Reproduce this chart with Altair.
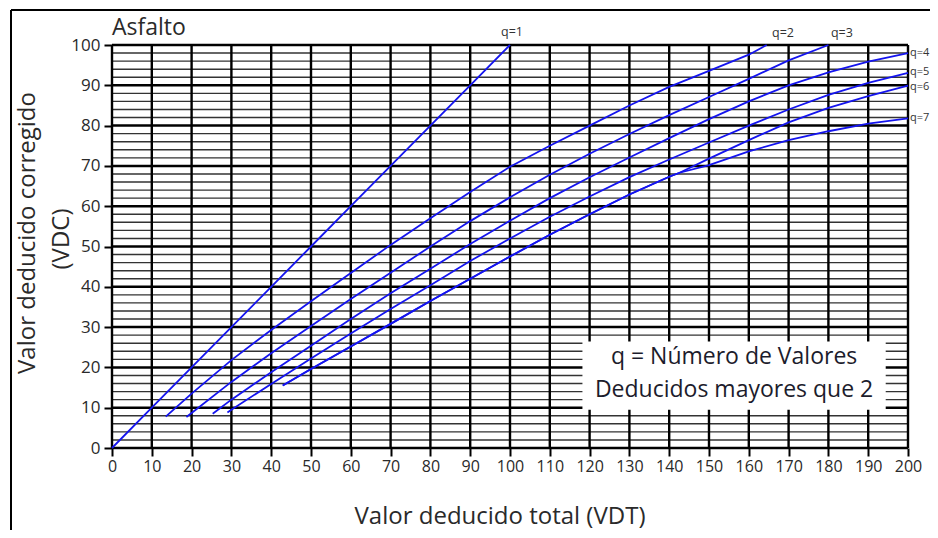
import altair as alt
import pandas as pd

# ---------------- data ----------------
q1_x = [0, 10, 20, 30, 40, 50, 60, 70, 80, 90, 100]
q1_y = [0, 10, 20, 30, 40, 50, 60, 70, 80, 90, 100]

q2_x = [13.5, 20, 30, 40, 50, 60, 70, 80, 90, 100, 110, 120, 130, 140, 150, 160, 164.5]
q2_y = [7.8, 13.5, 21.8, 29.3, 36.4, 43.4, 50.4, 57, 63.5, 69.8, 75, 80, 85, 89.6, 93.6, 97.6, 100]

q3_x = [18.7, 20, 30, 40, 50, 60, 70, 80, 90, 100, 110, 120, 130, 140, 150, 160, 170, 180]
q3_y = [7.7, 8.7, 16.4, 23.5, 30.3, 37, 43.5, 50, 56.3, 62.2, 67.8, 73, 77.9, 82.6, 87.1, 91.6, 96.2, 100]

q4_x = [25.3, 30, 40, 50, 60, 70, 80, 90, 100, 110, 120, 130, 140, 150, 160, 170, 180, 190, 200]
q4_y = [8.5, 12, 18.8, 25.4, 32, 38.4, 44.5, 50.6, 56.4, 62, 67.2, 72.1, 76.9, 81.6, 86, 90, 93.2, 95.9, 98]

q5_x = [29, 30, 40, 50, 60, 70, 80, 90, 100, 110, 120, 130, 140, 150, 160, 170, 180, 190, 200]
q5_y = [8.8, 9.5, 15.9, 22.2, 28.4, 34.5, 40.4, 46.4, 52, 57.4, 62.4, 67.2, 71.6, 75.8, 80, 84, 87.6, 90.6, 93.1]

q6_x = [42.9, 50, 60, 70, 80, 90, 100, 110, 120, 130, 140, 142.6, 150, 160, 170, 180, 190, 200]
q6_y = [15.5, 19.6, 25.2, 30.8, 36.5, 42, 47.5, 52.9, 58, 62.9, 67.3, 68.3, 71.8, 76.4, 80.8, 84.4, 87.3, 89.9]

q7_x = [42.9, 50, 60, 70, 80, 90, 100, 110, 120, 130, 140, 142.6, 150, 160, 170, 180, 190, 200]
q7_y = [15.5, 19.6, 25.2, 30.8, 36.5, 42, 47.5, 52.9, 58, 62.9, 67.3, 68.3, 70.2, 73.6, 76.4, 78.6, 80.5, 81.8]

curve_names = ["q=1", "q=2", "q=3", "q=4", "q=5", "q=6", "q=7"]
curve_xs = [q1_x, q2_x, q3_x, q4_x, q5_x, q6_x, q7_x]
curve_ys = [q1_y, q2_y, q3_y, q4_y, q5_y, q6_y, q7_y]

# curve end labels (data units)
top_text = ["q=1", "q=2", "q=3"]
top_x = [100.5, 168.6, 183.4]
top_y = [103.2, 103.0, 103.0]
side_text = ["q=4", "q=5", "q=6", "q=7"]
side_x = [200.5, 200.5, 200.5, 200.5]
side_y = [98.0, 93.2, 89.6, 81.9]

x_ticks = list(range(0, 201, 10))
y_ticks = list(range(0, 101, 10))
y_minor = list(range(0, 101, 2))

note_lines = ["q = Número de Valores", "Deducidos mayores que 2"]
note_box = [118.2, 194.4, 9.5, 26.4]  # x1, x2, y1, y2 in data units

# ---------------- build ----------------
rows = []
for name, xs_, ys_ in zip(curve_names, curve_xs, curve_ys):
    for i, (a, b) in enumerate(zip(xs_, ys_)):
        rows.append({"q": name, "vdt": a, "vdc": b, "i": i})
curves = pd.DataFrame(rows)

W, H = 796, 403
FONT = "Open Sans"
TXT = "#2a2a2a"
BLUE = "#1414ee"

xs = alt.Scale(domain=[0, 200], nice=False, zero=False)
ys = alt.Scale(domain=[0, 100], nice=False, zero=False)

AX = alt.Axis(values=x_ticks, title=None, grid=False, domain=False,
              tickSize=8, tickWidth=2, tickColor="#000",
              labelFont=FONT, labelFontSize=16, labelColor=TXT,
              labelPadding=2, labelFlush=False, labelOverlap=False)
AY = alt.Axis(values=y_ticks, title=None, grid=False, domain=False,
              tickSize=8, tickWidth=2, tickColor="#000",
              labelFont=FONT, labelFontSize=17, labelColor=TXT,
              labelPadding=4, labelFlush=False, labelOverlap=False)

vgrid = pd.DataFrame({"v": x_ticks, "a": 0, "b": 100})
hmin = pd.DataFrame({"v": [v for v in y_minor if v % 10], "a": 0, "b": 200})
hmaj = pd.DataFrame({"v": [v for v in y_minor if v % 10 == 0], "a": 0, "b": 200})

hminor = alt.Chart(hmin).mark_rule(color="#333333", strokeWidth=1.4).encode(
    y=alt.Y("v:Q", scale=ys, axis=AY),
    x=alt.X("a:Q", scale=xs, axis=AX), x2="b:Q",
)
hmajor = alt.Chart(hmaj).mark_rule(color="#000000", strokeWidth=2.5).encode(
    y=alt.Y("v:Q", scale=ys, axis=AY),
    x=alt.X("a:Q", scale=xs, axis=AX), x2="b:Q",
)
vmajor = alt.Chart(vgrid).mark_rule(color="#000000", strokeWidth=2.4).encode(
    x=alt.X("v:Q", scale=xs, axis=AX),
    y=alt.Y("a:Q", scale=ys, axis=AY), y2="b:Q",
)

box_df = pd.DataFrame({"x1": [note_box[0]], "x2": [note_box[1]], "y1": [note_box[2]], "y2": [note_box[3]]})
box = alt.Chart(box_df).mark_rect(fill="white").encode(
    x=alt.X("x1:Q", scale=xs, axis=AX), x2="x2:Q",
    y=alt.Y("y1:Q", scale=ys, axis=AY), y2="y2:Q",
)

lines = alt.Chart(curves).mark_line(color=BLUE, strokeWidth=1.8).encode(
    x=alt.X("vdt:Q", scale=xs, axis=AX),
    y=alt.Y("vdc:Q", scale=ys, axis=AY),
    detail="q:N",
    order="i:Q",
)

top_df = pd.DataFrame({"t": top_text, "x": top_x, "y": top_y})
labs_top = alt.Chart(top_df).mark_text(
    font=FONT, fontSize=12.5, color="#333", align="center", baseline="middle"
).encode(x=alt.X("x:Q", scale=xs, axis=AX), y=alt.Y("y:Q", scale=ys, axis=AY), text="t:N")
side_df = pd.DataFrame({"t": side_text, "x": side_x, "y": side_y})
labs_side = alt.Chart(side_df).mark_text(
    font=FONT, fontSize=11, color="#333", align="left", baseline="middle"
).encode(x=alt.X("x:Q", scale=xs, axis=AX), y=alt.Y("y:Q", scale=ys, axis=AY), text="t:N")

note_df = pd.DataFrame({"t": note_lines, "x": [156.3, 156.3], "y": [22.6, 14.4]})
note = alt.Chart(note_df).mark_text(
    font=FONT, fontSize=23, color="#1c1c2c", align="center", baseline="middle"
).encode(x=alt.X("x:Q", scale=xs, axis=AX), y=alt.Y("y:Q", scale=ys, axis=AY), text="t:N")

one = pd.DataFrame({"k": [0]})
asfalto = alt.Chart(one).mark_text(font=FONT, fontSize=23, color=TXT, align="left",
                                   baseline="middle").encode(
    x=alt.value(0), y=alt.value(-17), text=alt.value("Asfalto"))
ytitle1 = alt.Chart(one).mark_text(font=FONT, fontSize=24, color=TXT, align="center",
                                   baseline="middle", angle=270).encode(
    x=alt.value(-84), y=alt.value(188), text=alt.value("Valor deducido corregido"))
ytitle2 = alt.Chart(one).mark_text(font=FONT, fontSize=24, color=TXT, align="center",
                                   baseline="middle", angle=270).encode(
    x=alt.value(-50), y=alt.value(194), text=alt.value("(VDC)"))
xtitle = alt.Chart(one).mark_text(font=FONT, fontSize=24, color=TXT, align="center",
                                  baseline="middle").encode(
    x=alt.value(388), y=alt.value(472), text=alt.value("Valor deducido total (VDT)"))

frame_v = alt.Chart(one).mark_rule(color="#000", strokeWidth=2).encode(
    x=alt.value(-101), y=alt.value(-35), y2=alt.value(520))
frame_h = alt.Chart(one).mark_rule(color="#000", strokeWidth=2).encode(
    x=alt.value(-101), x2=alt.value(830), y=alt.value(-35))

chart = alt.layer(
    hminor, hmajor, vmajor, box, lines, labs_top, labs_side, note,
    asfalto, ytitle1, ytitle2, xtitle, frame_v, frame_h,
).properties(
    width=W, height=H,
    padding={"left": 104, "top": 37, "right": 22, "bottom": 82},
    autosize=alt.AutoSizeParams(type="none"),
    background="white",
).configure_view(stroke=None)

chart.save("out.html", embed_options={"renderer": "svg", "actions": False})
